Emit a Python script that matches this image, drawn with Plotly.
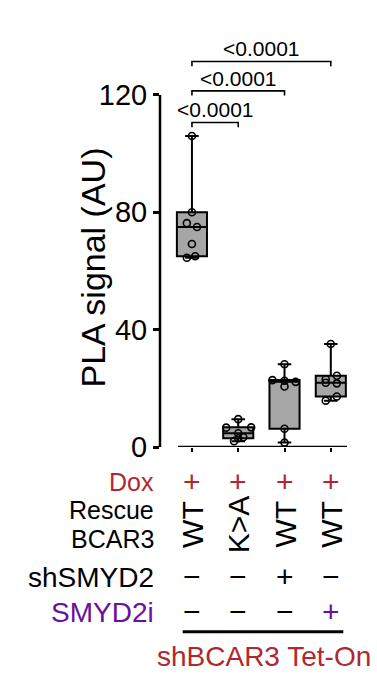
import numpy as np
import plotly.graph_objects as go

# ---------------- data ----------------
groups = ["WT", "K>A", "WT + shSMYD2", "WT + SMYD2i"]
g1 = [106.0, 80.0, 76.3, 75.0, 69.2, 65.0, 64.5]
g2 = [9.5, 6.7, 6.6, 4.7, 3.3, 3.0, 2.0]
g3 = [28.2, 22.8, 22.6, 22.2, 20.6, 6.2, 1.5]
g4 = [35.1, 24.3, 23.1, 21.9, 21.7, 17.2, 15.8]
series = [g1, g2, g3, g4]
pvals = ["<0.0001", "<0.0001", "<0.0001"]
ytick_vals = [0, 40, 80, 120]

row_dox = ["+", "+", "+", "+"]
row_rescue = ["WT", "K>A", "WT", "WT"]
row_sh = ["\u2212", "\u2212", "+", "\u2212"]
row_inh = ["\u2212", "\u2212", "\u2212", "+"]

# jitter offsets for dot display (layout only)
jitter = [
    [0, 0, -0.11, 0.11, 0, 0.07, -0.11],
    [0, 0.28, -0.26, 0, 0.11, 0, -0.09],
    [0, -0.26, 0, 0.24, 0, 0, 0],
    [0, 0.13, -0.11, -0.11, 0.13, 0.13, -0.11],
]

RED = "#b0282e"
PURPLE = "#6a0f9e"
FONT = "Liberation Sans, Arial, sans-serif"


def quart(vals, q):
    s = np.sort(np.asarray(vals, dtype=float))
    n = len(s)
    pos = (n + 1) * q - 1
    lo = int(np.floor(pos))
    hi = min(lo + 1, n - 1)
    frac = pos - lo
    return s[lo] + (s[hi] - s[lo]) * frac


xs = list(range(len(series)))
q1 = [quart(v, 0.25) for v in series]
med = [quart(v, 0.5) for v in series]
q3 = [quart(v, 0.75) for v in series]
lo = [min(v) for v in series]
hi = [max(v) for v in series]

fig = go.Figure()
fig.add_trace(go.Box(
    x=xs, q1=q1, median=med, q3=q3, lowerfence=lo, upperfence=hi,
    width=0.65, whiskerwidth=0.45, fillcolor="#a6a6a6",
    line=dict(color="black", width=2), boxpoints=False, showlegend=False,
    hoverinfo="skip",
))

px_, py_ = [], []
for i, v in enumerate(series):
    for j, val in enumerate(v):
        px_.append(i + jitter[i][j])
        py_.append(val)
fig.add_trace(go.Scatter(
    x=px_, y=py_, mode="markers", cliponaxis=False, showlegend=False,
    marker=dict(symbol="circle-open", size=7, color="black", line=dict(width=1.6)),
))

# significance brackets
top = max(max(v) for v in series)
levels = [top + 4.6, top + 15.4, top + 25.4]
for k, (lev, p) in enumerate(zip(levels, pvals)):
    x1 = k + 1
    fig.add_trace(go.Scatter(
        x=[0, 0, x1, x1], y=[lev - 1.6, lev, lev, lev - 1.6], mode="lines",
        line=dict(color="black", width=1.6), showlegend=False, hoverinfo="skip",
    ))
    fig.add_annotation(x=x1 / 2, y=lev + 4.3, xref="x", yref="y", text=p,
                       showarrow=False, font=dict(size=21, color="black", family=FONT),
                       xanchor="center", yanchor="middle")

# axis lines drawn Prism-style
fig.add_shape(type="line", xref="paper", yref="y", x0=0, x1=0, y0=0, y1=120,
              line=dict(color="black", width=2.5))
fig.add_shape(type="line", xref="x", yref="y", x0=-0.3, x1=3.35, y0=0, y1=0,
              line=dict(color="black", width=2.5))

# ---- table below ----
PLOT_BOTTOM = 447
PLOT_H = 411


def py2paper(py):
    return (PLOT_BOTTOM - py) / PLOT_H


def ann(x, py, text, color, size, xref="x", xanchor="center", angle=0):
    fig.add_annotation(x=x, y=py2paper(py), xref=xref, yref="paper", text=text,
                       showarrow=False, xanchor=xanchor, yanchor="middle",
                       textangle=angle, font=dict(size=size, color=color, family=FONT))


lab_x = (156 - 160) / 187
rows = [
    ("Dox", RED, 481.7, 25),
    ("Rescue", "black", 510, 25),
    ("BCAR3", "black", 538.5, 25),
    ("shSMYD2", "black", 577.5, 28),
    ("SMYD2i", PURPLE, 612, 28),
]
for txt, col, py, sz in rows:
    ann(lab_x, py, txt, col, sz, xref="paper", xanchor="right")

for i in xs:
    ann(i, 481.7, row_dox[i], RED, 30)
    ann(i, 524, row_rescue[i], "black", 30, angle=-90)
    ann(i, 576.7, row_sh[i], "black", 30)
    ann(i, 611.7, row_inh[i], PURPLE if row_inh[i] == "+" else "black", 30)

fig.add_shape(type="line", xref="x", yref="paper", x0=-0.2, x1=3.27,
              y0=py2paper(631.7), y1=py2paper(631.7), line=dict(color="black", width=3))
ann(1.55, 656.7, "shBCAR3 Tet-On", RED, 28)

# y title
fig.add_annotation(x=(92 - 160) / 187, y=py2paper(267.5), xref="paper", yref="paper",
                   text="PLA signal (AU)", textangle=-90, showarrow=False,
                   xanchor="center", yanchor="middle",
                   font=dict(size=34, color="black", family=FONT))

fig.update_layout(
    width=377, height=680,
    margin=dict(l=160, r=30, t=36, b=233),
    plot_bgcolor="white", paper_bgcolor="white",
    showlegend=False,
    xaxis=dict(range=[-0.69, 3.35], tickvals=xs, showticklabels=False, ticks="outside",
               ticklen=4, tickwidth=2, tickcolor="black", showline=False,
               showgrid=False, zeroline=False, fixedrange=True),
    yaxis=dict(range=[0, 140.1], tickvals=ytick_vals, ticks="outside", ticklen=6,
               tickwidth=2.5, tickcolor="black", showline=False, showgrid=False,
               zeroline=False, tickfont=dict(size=29, color="black", family=FONT),
               fixedrange=True),
)

fig.write_html("out.html")
